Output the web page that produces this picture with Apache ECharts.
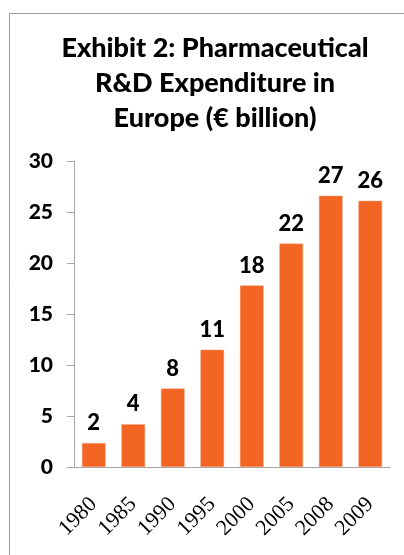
<!DOCTYPE html>
<html>
<head>
<meta charset="utf-8">
<script src="https://cdn.jsdelivr.net/npm/echarts@6/dist/echarts.min.js"></script>
<style>
  html, body { margin: 0; padding: 0; background: #fff; }
  #chart { width: 404px; height: 555px; }
</style>
</head>
<body>
<div id="chart"></div>
<script>
// R&D expenditure in Europe, € billion
const years = ['1980', '1985', '1990', '1995', '2000', '2005', '2008', '2009']
const spend = [2.35, 4.2, 7.7, 11.5, 17.8, 21.9, 26.6, 26.1]
const spendLabels = ['2', '4', '8', '11', '18', '22', '27', '26']

const chart = echarts.init(document.getElementById('chart'))

const axisGray = '#a6a6a6'

chart.setOption({
  animation: false,
  title: {
    text: 'Exhibit 2: Pharmaceutical\nR&D Expenditure in\nEurope (€ billion)',
    left: 210,
    textAlign: 'center',
    top: 26,
    textStyle: {
      fontFamily: 'Lato',
      fontWeight: 900,
      fontSize: 27,
      lineHeight: 35,
      color: '#000'
    }
  },
  graphic: [{
    type: 'polyline',
    shape: { points: [[9.5, 555], [9.5, 13.5], [404, 13.5]] },
    style: { stroke: '#9a9a9a', lineWidth: 1, fill: null }
  }],
  grid: { left: 74, right: 14, top: 161, bottom: 88 },
  xAxis: {
    type: 'category',
    data: years,
    axisLine: { lineStyle: { color: axisGray, width: 1 } },
    axisTick: { length: 7, lineStyle: { color: axisGray } },
    axisLabel: {
      interval: 0,
      rotate: 45,
      margin: 34,
      fontFamily: 'Liberation Serif',
      fontSize: 22,
      color: '#000'
    }
  },
  yAxis: {
    type: 'value',
    min: 0,
    max: 30,
    interval: 5,
    splitLine: { show: false },
    axisLine: { show: true, lineStyle: { color: axisGray, width: 1 } },
    axisTick: { show: true, length: 7, lineStyle: { color: axisGray } },
    axisLabel: {
      margin: 21,
      fontFamily: 'Lato',
      fontWeight: 900,
      fontSize: 21,
      color: '#000'
    }
  },
  series: [{
    type: 'bar',
    data: spend,
    barCategoryGap: '40%',
    itemStyle: { color: '#f26522', borderColor: '#f7a27c', borderWidth: 0.5 },
    label: {
      show: true,
      position: 'top',
      distance: 9,
      formatter: p => spendLabels[p.dataIndex],
      fontFamily: 'Lato',
      fontWeight: 900,
      fontSize: 22,
      color: '#000'
    }
  }]
})
</script>
</body>
</html>
